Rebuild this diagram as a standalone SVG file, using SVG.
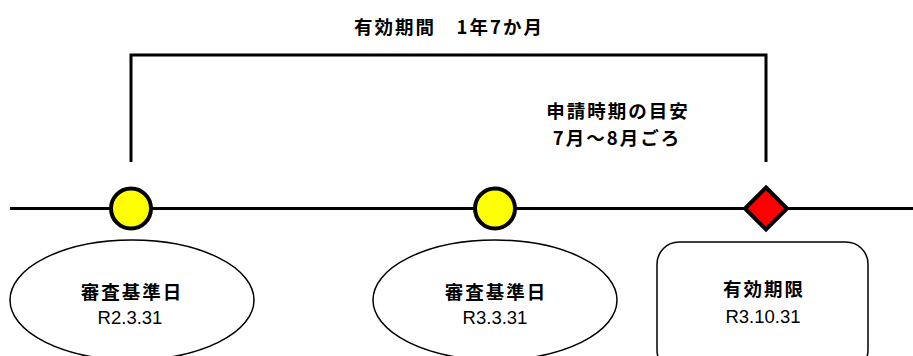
<svg xmlns="http://www.w3.org/2000/svg" width="913" height="356" viewBox="0 0 913 356">
<style>
.t{font-family:"Noto Sans CJK JP","Noto Sans",sans-serif;font-weight:bold;font-size:18.5px;fill:#000;text-anchor:middle}
.j{letter-spacing:2px}
.n{font-family:"Liberation Sans","Noto Sans",sans-serif;font-size:18.5px;fill:#000;text-anchor:middle}
.box{fill:#fff;stroke:#000;stroke-width:1.5}
.ln{fill:none;stroke:#000;stroke-width:3}
</style>
<rect width="913" height="356" fill="#fff"/>
<g id="connectors">
<line class="ln" x1="10" y1="208.5" x2="913" y2="208.5"/>
<polyline class="ln" points="131,162 131,55 766,55 766,162"/>
</g>
<g id="title"><text class="t j" x="449" y="34">有効期間　1年7か月</text></g>
<g id="guide">
<text class="t j" x="618" y="118">申請時期の目安</text>
<text class="t j" x="617" y="145">7月～8月ごろ</text>
</g>
<g id="marker1"><circle cx="131" cy="208.5" r="20" fill="#ffff00" stroke="#000" stroke-width="4"/></g>
<g id="marker2"><circle cx="495" cy="208.5" r="20" fill="#ffff00" stroke="#000" stroke-width="4"/></g>
<g id="marker3"><polygon points="766,187.5 787,208.5 766,229.5 745,208.5" fill="#ff0000" stroke="#000" stroke-width="4" stroke-linejoin="miter"/></g>
<g id="node1">
<ellipse class="box" cx="132" cy="300" rx="122" ry="60"/>
<text class="t j" x="132" y="299">審査基準日</text>
<text class="n" x="130" y="324">R2.3.31</text>
</g>
<g id="node2">
<ellipse class="box" cx="495" cy="300" rx="122" ry="60"/>
<text class="t j" x="496" y="299">審査基準日</text>
<text class="n" x="495" y="324">R3.3.31</text>
</g>
<g id="node3">
<rect class="box" x="657" y="242" width="211" height="130" rx="22"/>
<text class="t j" x="764" y="296">有効期限</text>
<text class="n" x="763" y="323">R3.10.31</text>
</g>
</svg>
